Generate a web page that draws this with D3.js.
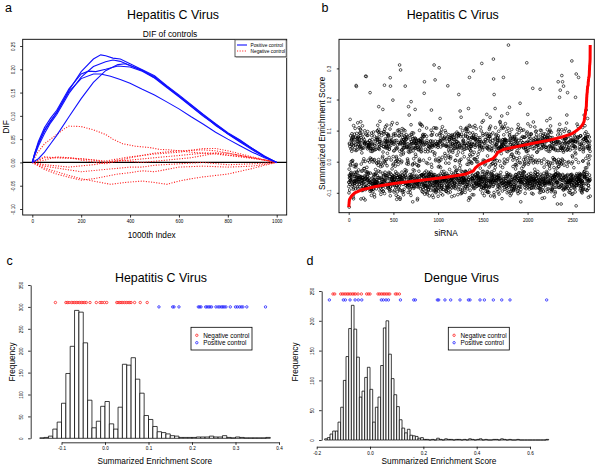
<!DOCTYPE html>
<html><head><meta charset="utf-8">
<script src="https://cdn.jsdelivr.net/npm/d3@7/dist/d3.min.js"></script>
<style>body{margin:0;background:#fff} svg{display:block} text{font-family:"Liberation Sans",Arial,Helvetica,sans-serif;fill:#000}</style>
</head><body><svg id="chart" width="600" height="466"></svg>
<script>
// ---------------- DATA ----------------
// Panel a: DIF curves (1000th index, DIF)
const difXTicks = [0, 200, 400, 600, 800, 1000];
const difYTicks = [-0.10, -0.05, 0.00, 0.05, 0.10, 0.15, 0.20, 0.25];
const positiveCurveA = [[0,0],[10,0.02],[25,0.04],[50,0.068],[75,0.088],[100,0.108],[150,0.155],[200,0.195],[250,0.222],[280,0.231],[300,0.229],[330,0.224],[360,0.222],[400,0.212],[450,0.199],[500,0.186],[550,0.165],[600,0.145],[650,0.124],[700,0.103],[750,0.083],[800,0.064],[850,0.048],[900,0.03],[950,0.014],[1000,0]];
const positiveCurveB = [[0,0],[10,0.015],[25,0.035],[50,0.062],[75,0.085],[100,0.103],[150,0.148],[200,0.183],[250,0.206],[300,0.216],[330,0.22],[360,0.217],[400,0.208],[450,0.197],[500,0.184],[550,0.163],[600,0.142],[650,0.121],[700,0.1],[750,0.082],[800,0.062],[850,0.047],[900,0.029],[950,0.013],[1000,0]];
const positiveCurveC = [[0,0],[10,0.003],[25,0.008],[50,0.022],[75,0.04],[100,0.058],[150,0.098],[200,0.137],[250,0.172],[300,0.197],[350,0.21],[380,0.212],[400,0.208],[450,0.198],[500,0.182],[550,0.163],[600,0.143],[650,0.123],[700,0.102],[750,0.079],[800,0.062],[850,0.045],[900,0.03],[950,0.012],[1000,0]];
const positiveCurveD = [[0,0],[10,0.02],[25,0.045],[50,0.075],[75,0.095],[100,0.112],[150,0.158],[200,0.19],[230,0.196],[260,0.195],[300,0.2],[350,0.207],[400,0.205],[450,0.196],[500,0.181],[550,0.161],[600,0.141],[650,0.12],[700,0.099],[750,0.08],[800,0.061],[850,0.044],[900,0.027],[950,0.012],[1000,0]];
const positiveCurveE = [[0,0],[10,0.018],[25,0.04],[50,0.07],[75,0.09],[100,0.107],[150,0.152],[200,0.18],[250,0.19],[280,0.19],[320,0.185],[360,0.178],[400,0.17],[450,0.157],[500,0.145],[550,0.13],[600,0.115],[650,0.098],[700,0.082],[750,0.065],[800,0.05],[850,0.036],[900,0.022],[950,0.01],[1000,0]];
const negativeCurve1 = [[0,0],[20,0.02],[50,0.04],[100,0.06],[130,0.072],[150,0.078],[200,0.077],[250,0.07],[300,0.06],[330,0.05],[370,0.04],[420,0.035],[480,0.032],[520,0.028],[560,0.027],[600,0.025],[650,0.022],[700,0.02],[750,0.018],[800,0.015],[850,0.013],[900,0.01],[950,0.005],[1000,0]];
const negativeCurve2 = [[0,0],[50,0.012],[100,0.01],[200,0.008],[300,0.003],[400,0.012],[500,0.018],[600,0.022],[700,0.03],[750,0.03],[800,0.025],[900,0.012],[1000,0]];
const negativeCurve3 = [[0,0],[50,0.01],[150,0.01],[250,0.005],[300,0],[400,0.005],[500,0.01],[600,0.015],[700,0.02],[800,0.02],[900,0.01],[1000,0]];
const negativeCurve4 = [[0,0],[50,-0.005],[150,-0.01],[250,-0.005],[350,0.005],[450,0],[550,0.005],[650,0.01],[750,0.02],[850,0.012],[950,0.005],[1000,0]];
const negativeCurve5 = [[0,0],[50,-0.012],[100,-0.02],[150,-0.028],[200,-0.035],[250,-0.04],[320,-0.047],[380,-0.043],[450,-0.04],[500,-0.043],[550,-0.047],[600,-0.04],[650,-0.035],[700,-0.031],[800,-0.025],[900,-0.013],[950,-0.006],[1000,0]];
const negativeCurve6 = [[0,0],[50,-0.015],[100,-0.025],[150,-0.032],[200,-0.038],[250,-0.035],[300,-0.03],[350,-0.025],[400,-0.022],[450,-0.018],[500,-0.02],[550,-0.015],[600,-0.01],[700,-0.008],[800,-0.01],[900,-0.008],[1000,0]];
const negativeCurve7 = [[0,0],[50,-0.008],[100,-0.012],[200,-0.02],[300,-0.015],[400,-0.01],[450,-0.01],[500,-0.006],[600,-0.003],[700,0],[800,-0.005],[900,-0.003],[1000,0]];
const negativeCurve8 = [[0,0],[50,0.005],[100,0.012],[150,0.01],[200,0.005],[300,-0.003],[400,0.01],[500,0.02],[600,0.025],[700,0.027],[750,0.025],[800,0.02],[900,0.01],[1000,0]];

// Panel b/c: HCV summarized enrichment score, histogram (bin width 0.01 from -0.15)
const hcvBinStart = -0.15;
const binWidth = 0.01;
const hcvCounts = [1,2,5,21,37,80,148,210,292,288,218,87,24,39,73,84,33,21,71,169,167,184,135,103,52,43,27,15,13,10,6,5,2,2,2,2,3,3,3,5,3,3,6,2,1,3,2,1,1,1,1,1,2];
const hcvXTicks = [-0.1, 0.0, 0.1, 0.2, 0.3, 0.4];
const hcvYTicks = [0, 50, 100, 150, 200, 250, 300, 350];
const hcvNegControls = [-0.114,-0.090,-0.0866,-0.0828,-0.0774,-0.0736,-0.0697,-0.066,-0.0621,-0.0583,-0.0544,-0.0506,-0.0467,-0.043,-0.0345,-0.020,-0.0115,-0.007,-0.0015,0.004,0.027,0.030,0.034,0.037,0.041,0.045,0.049,0.053,0.057,0.060,0.068,0.081,0.097];
const hcvPosControls = [0.124,0.1556,0.1586,0.170,0.2146,0.2176,0.2207,0.2314,0.2345,0.2383,0.2414,0.245,0.255,0.26,0.264,0.268,0.271,0.274,0.278,0.288,0.30,0.304,0.309,0.313,0.317,0.326,0.369];
// Panel b: scatter outliers read individually [siRNA index, score]
const scatterHigh = [[15,0.136],[82,0.245],[85,0.242],[188,0.275],[195,0.274],[238,0.222],[335,0.177],[381,0.168],[399,0.246],[463,0.27],[466,0.243],[493,0.198],[568,0.311],[579,0.295],[631,0.243],[668,0.177],[675,0.15],[697,0.193],[742,0.168],[843,0.22],[846,0.257],[924,0.166],[954,0.311],[965,0.263],[1010,0.302],[1021,0.139],[1107,0.244],[1230,0.216],[1245,0.163],[1256,0.143],[1338,0.171],[1349,0.271],[1394,0.292],[1487,0.316],[1505,0.132],[1543,0.152],[1580,0.143],[1617,0.33],[1619,0.266],[1625,0.216],[1636,0.171],[1710,0.147],[1729,0.271],[1774,0.155],[1785,0.375],[1796,0.175],[1915,0.188],[1990,0.318],[2001,0.152],[2057,0.236],[2139,0.233],[2214,0.132],[2251,0.139],[2341,0.257],[2356,0.207],[2364,0.23],[2382,0.277],[2390,0.257],[2401,0.243],[2438,0.15],[2446,0.222],[2494,0.324],[2535,0.207],[2543,0.282],[2569,0.271],[2632,0.15],[2655,0.166],[2670,0.139]];
const scatterLow = [[5,-0.146],[182,-0.123],[536,-0.121],[573,-0.121],[715,-0.129],[767,-0.123],[1923,-0.129],[2333,-0.136],[2374,-0.136],[2542,-0.142],[1338,-0.124]];
const sirnaXTicks = [0, 500, 1000, 1500, 2000, 2500];
const scoreYTicks = [-0.1, 0.0, 0.1, 0.2, 0.3];

// Panel d: Dengue histogram (bin width 0.01 from -0.17)
const dengueBinStart = -0.17;
const dengueCounts = [2,4,10,15,15,30,55,100,140,187,226,186,139,72,82,105,122,85,30,55,72,125,188,200,144,103,76,56,34,20,12,18,8,7,6,3,4,1,1,0,1,0,3,1,0,2,1,1,0,1,1,0,1,0,2,1,0,1,2,0,1,0,0,1,1,0,2,1,0,1,0,0,1,0,0,0,0,0,0,0,0,0,0,1];
const dengueXTicks = [-0.2, 0.0, 0.2, 0.4, 0.6];
const dengueYTicks = [0, 50, 100, 150, 200, 250];
const dengueNegControls = [-0.139,-0.1325,-0.11,-0.104,-0.0975,-0.091,-0.085,-0.079,-0.0725,-0.066,-0.06,-0.054,-0.045,-0.0325,-0.0125,-0.0063,0,0.03,0.0363,0.0425,0.049,0.055,0.061,0.0675,0.074,0.095,0.101,0.11];
const denguePosControls = [-0.1525,-0.1,-0.0925,-0.075,-0.056,-0.044,-0.031,0.0425,0.05,0.06,0.069,0.114,0.164,0.17,0.2525,0.2575,0.281,0.3025,0.3375,0.369,0.375,0.4125,0.429,0.4625,0.494,0.525,0.6625];

// ---------------- DRAW ----------------
const svg = d3.select("#chart");
const FONT_TICK = 4.6, FONT_LAB = 8.3, FONT_TITLE = 12.4;

function txt(g, x, y, s, size, anchor, rot) {
  const t = g.append("text").attr("x", x).attr("y", y).attr("font-size", size)
    .attr("text-anchor", anchor || "middle").text(s);
  if (rot) t.attr("transform", `rotate(-90,${x},${y})`);
  return t;
}
function styleAxis(g, rotateY, off) {
  g.selectAll("path.domain").attr("stroke", "#000").attr("stroke-width", 0.8);
  g.selectAll(".tick line").attr("stroke", "#000").attr("stroke-width", 0.8);
  g.selectAll(".tick text").attr("font-size", FONT_TICK).attr("font-family", "Liberation Sans, Arial, sans-serif").attr("fill", "#000");
  if (rotateY) {
    g.selectAll(".tick text").attr("transform", "rotate(-90)").attr("x", 0).attr("y", -off).attr("dy", 0).attr("text-anchor", "middle");
  }
}
function fmtNum(d, dec) { return d3.format(`.${dec}f`)(d).replace("−", "-"); }

// ===== Panel a =====
{
  const g = svg.append("g");
  const x = d3.scaleLinear().domain([0, 1000]).range([32.3, 276.7]);
  const y = d3.scaleLinear().domain([-0.10, 0.25]).range([209, 46]);
  const box = {l: 22.7, r: 286.7, t: 39.3, b: 215};
  txt(g, 5, 12, "a", 12.5, "start");
  txt(g, 173, 19, "Hepatitis C Virus", FONT_TITLE);
  txt(g, 170, 36.5, "DIF of controls", 8.4);
  const ya = g.append("g").attr("transform", `translate(${box.l},0)`)
    .call(d3.axisLeft(y).tickValues(difYTicks).tickSize(2.6).tickSizeOuter(0).tickFormat(d => fmtNum(d, 2)));
  styleAxis(ya, true, 7.6);
  ya.select("path.domain").remove();
  const xa = g.append("g").attr("transform", `translate(0,${box.b})`)
    .call(d3.axisBottom(x).tickValues(difXTicks).tickSize(2.6).tickSizeOuter(0).tickPadding(2.2).tickFormat(d3.format("d")));
  styleAxis(xa, false);
  xa.select("path.domain").remove();
  txt(g, 8.5, 127, "DIF", 8.5, "middle", true);
  txt(g, 151.7, 238, "1000th Index", FONT_LAB);
  g.append("line").attr("x1", box.l).attr("x2", box.r).attr("y1", y(0)).attr("y2", y(0)).attr("stroke", "#000").attr("stroke-width", 1.2);
  const line = d3.line().x(d => x(d[0])).y(d => y(d[1]));
  [negativeCurve1, negativeCurve2, negativeCurve3, negativeCurve4, negativeCurve5, negativeCurve6, negativeCurve7, negativeCurve8].forEach(c => {
    g.append("path").attr("d", line(c)).attr("fill", "none").attr("stroke", "#ff2020").attr("stroke-width", 1.1).attr("stroke-dasharray", "1.1,1.5");
  });
  [positiveCurveA, positiveCurveB, positiveCurveC, positiveCurveD, positiveCurveE].forEach(c => {
    g.append("path").attr("d", line(c)).attr("fill", "none").attr("stroke", "#1010ff").attr("stroke-width", 1.1);
  });
  g.append("rect").attr("x", box.l).attr("y", box.t).attr("width", box.r - box.l).attr("height", box.b - box.t).attr("fill", "none").attr("stroke", "#000").attr("stroke-width", 0.9);
  // legend with slight shadow
  g.append("rect").attr("x", 236).attr("y", box.t + 1.5).attr("width", 51).attr("height", 17).attr("fill", "#bbb");
  g.append("rect").attr("x", 235).attr("y", box.t + 0.5).attr("width", 51.2).attr("height", 17).attr("fill", "#fff").attr("stroke", "#333").attr("stroke-width", 0.8);
  g.append("line").attr("x1", 237).attr("x2", 247).attr("y1", 45).attr("y2", 45).attr("stroke", "#1010ff").attr("stroke-width", 1.1);
  g.append("line").attr("x1", 237).attr("x2", 247).attr("y1", 51).attr("y2", 51).attr("stroke", "#ff2020").attr("stroke-width", 1.1).attr("stroke-dasharray", "1.1,1.5");
  txt(g, 250.5, 46.7, "Positive control", 4.8, "start");
  txt(g, 250.5, 52.7, "Negative control", 4.8, "start");
}

// ===== Panel b =====
{
  const g = svg.append("g");
  const box = {l: 339, r: 594.3, t: 39.3, b: 212.7};
  const x = d3.scaleLinear().domain([0, 2500]).range([348.7, 572.3]);
  const y = d3.scaleLinear().domain([-0.1, 0.3]).range([192.8, 68.4]);
  txt(g, 321.5, 12, "b", 12.5, "start");
  txt(g, 452.7, 19, "Hepatitis C Virus", FONT_TITLE);
  // bulk scores taken from the HCV histogram bins (-0.12 .. 0.13), outliers read individually
  const bulk = [];
  hcvCounts.forEach((n, i) => {
    if (i < 3 || i > 27) return;
    const lo = hcvBinStart + i * binWidth;
    for (let k = 0; k < n; k++) bulk.push(lo + binWidth * (k + 0.5) / n);
  });
  const outliers = scatterHigh.concat(scatterLow);
  const N = bulk.length + outliers.length;
  const slots = new Array(N).fill(null);
  outliers.forEach(([idx, v]) => {
    let s = Math.max(0, Math.min(N - 1, Math.round(idx)));
    while (slots[s] !== null) s = (s + 1) % N;
    slots[s] = v;
  });
  // plate order is not recoverable from the picture: fixed, deterministic scrambled ordering
  const free = [];
  for (let s = 0; s < N; s++) if (slots[s] === null) free.push(s);
  const mix = j => {
    let h = Math.imul(j ^ 0x9e3779b9, 0x85ebca6b);
    h ^= h >>> 13; h = Math.imul(h, 0xc2b2ae35); h ^= h >>> 16;
    return h >>> 0;
  };
  const order = d3.range(free.length).sort((a, b) => mix(a) - mix(b));
  order.forEach((fi, r) => { slots[free[fi]] = bulk[r]; });
  const pts = slots.map((v, i) => [i + 1, v]);
  g.selectAll("circle.sc").data(pts).enter().append("circle")
    .attr("cx", d => x(d[0])).attr("cy", d => y(d[1])).attr("r", 1.35)
    .attr("fill", "none").attr("stroke", "#000").attr("stroke-width", 0.65);
  const sorted = slots.slice().sort((a, b) => a - b);
  g.append("path").attr("d", d3.line().x((d, i) => x(i + 1)).y(d => y(d))(sorted))
    .attr("fill", "none").attr("stroke", "#ff0000").attr("stroke-width", 3).attr("stroke-linejoin", "round");
  g.append("rect").attr("x", box.l).attr("y", box.t).attr("width", box.r - box.l).attr("height", box.b - box.t).attr("fill", "none").attr("stroke", "#000").attr("stroke-width", 0.9);
  const ya = g.append("g").attr("transform", `translate(${box.l},0)`)
    .call(d3.axisLeft(y).tickValues(scoreYTicks).tickSize(2.2).tickSizeOuter(0).tickFormat(d => fmtNum(d, 1)));
  styleAxis(ya, true, 8.2); ya.select("path.domain").remove();
  const xa = g.append("g").attr("transform", `translate(0,${box.b})`)
    .call(d3.axisBottom(x).tickValues(sirnaXTicks).tickSize(2.2).tickSizeOuter(0).tickPadding(3.5).tickFormat(d3.format("d")));
  styleAxis(xa, false); xa.select("path.domain").remove();
  txt(g, 446, 235.5, "siRNA", FONT_LAB);
  txt(g, 325.5, 133.3, "Summarized Enrichment Score", 8.2, "middle", true);
}

// ===== Histograms =====
function histogram(opts) {
  const g = svg.append("g");
  const {x, y, counts, binStart, neg, pos, negY, posY, leg} = opts;
  txt(g, opts.lab[0], opts.lab[1], opts.letter, 12.5, "start");
  txt(g, opts.title[0], opts.title[1], opts.titleText, FONT_TITLE);
  counts.forEach((n, i) => {
    const x0 = x(binStart + i * binWidth), x1 = x(binStart + (i + 1) * binWidth);
    const y0 = y(0), y1 = y(n);
    g.append("path").attr("d", `M${x0},${y0}L${x0},${y1}L${x1},${y1}L${x1},${y0}Z`)
      .attr("fill", "#fff").attr("stroke", "#000").attr("stroke-width", 0.75);
  });
  const ya = g.append("g").attr("transform", `translate(${opts.yAxisX},0)`)
    .call(d3.axisLeft(y).tickValues(opts.yTicks).tickSize(2.6).tickSizeOuter(0).tickFormat(d3.format("d")));
  styleAxis(ya, true, 7.6);
  const xa = g.append("g").attr("transform", `translate(0,${opts.xAxisY})`)
    .call(d3.axisBottom(x).tickValues(opts.xTicks).tickSize(2.6).tickSizeOuter(0).tickPadding(2).tickFormat(d => fmtNum(d, 1)));
  styleAxis(xa, false);
  g.selectAll("circle.neg").data(neg).enter().append("circle")
    .attr("cx", d => x(d)).attr("cy", y(negY)).attr("r", 1.2).attr("fill", "none").attr("stroke", "#ff2020").attr("stroke-width", 0.8);
  g.selectAll("circle.pos").data(pos).enter().append("circle")
    .attr("cx", d => x(d)).attr("cy", y(posY)).attr("r", 1.2).attr("fill", "none").attr("stroke", "#2020ff").attr("stroke-width", 0.8);
  g.append("rect").attr("x", leg[0]).attr("y", leg[1]).attr("width", 61).attr("height", 22.7).attr("fill", "#fff").attr("stroke", "#000").attr("stroke-width", 0.8);
  g.append("circle").attr("cx", leg[0] + 5.8).attr("cy", leg[1] + 8).attr("r", 1.2).attr("fill", "none").attr("stroke", "#ff2020").attr("stroke-width", 0.8);
  g.append("circle").attr("cx", leg[0] + 5.8).attr("cy", leg[1] + 15.4).attr("r", 1.2).attr("fill", "none").attr("stroke", "#2020ff").attr("stroke-width", 0.8);
  txt(g, leg[0] + 12.2, leg[1] + 10.2, "Negative control", 6.4, "start");
  txt(g, leg[0] + 12.2, leg[1] + 17.6, "Positive control", 6.4, "start");
  txt(g, opts.ylab[0], opts.ylab[1], "Frequency", FONT_LAB, "middle", true);
  txt(g, opts.xlab[0], opts.xlab[1], "Summarized Enrichment Score", FONT_LAB);
}

histogram({
  x: d3.scaleLinear().domain([-0.1, 0.4]).range([61.5, 279]),
  y: d3.scaleLinear().domain([0, 350]).range([438.3, 285]),
  counts: hcvCounts, binStart: hcvBinStart, neg: hcvNegControls, pos: hcvPosControls, negY: 310, posY: 300,
  letter: "c", lab: [6.5, 265], title: [161, 281.7], titleText: "Hepatitis C Virus",
  yAxisX: 30.7, xAxisY: 442.3, yTicks: hcvYTicks, xTicks: hcvXTicks,
  leg: [191, 327.3], ylab: [14.5, 362], xlab: [154.8, 464]
});
histogram({
  x: d3.scaleLinear().domain([-0.2, 0.6]).range([316.7, 530]),
  y: d3.scaleLinear().domain([0, 250]).range([440, 291]),
  counts: dengueCounts, binStart: dengueBinStart, neg: dengueNegControls, pos: denguePosControls, negY: 245, posY: 235,
  letter: "d", lab: [306.5, 265], title: [461.5, 282.3], titleText: "Dengue Virus",
  yAxisX: 321.7, xAxisY: 446.7, yTicks: dengueYTicks, xTicks: dengueXTicks,
  leg: [448.3, 327.3], ylab: [297.5, 362], xlab: [439, 464]
});
</script></body></html>
